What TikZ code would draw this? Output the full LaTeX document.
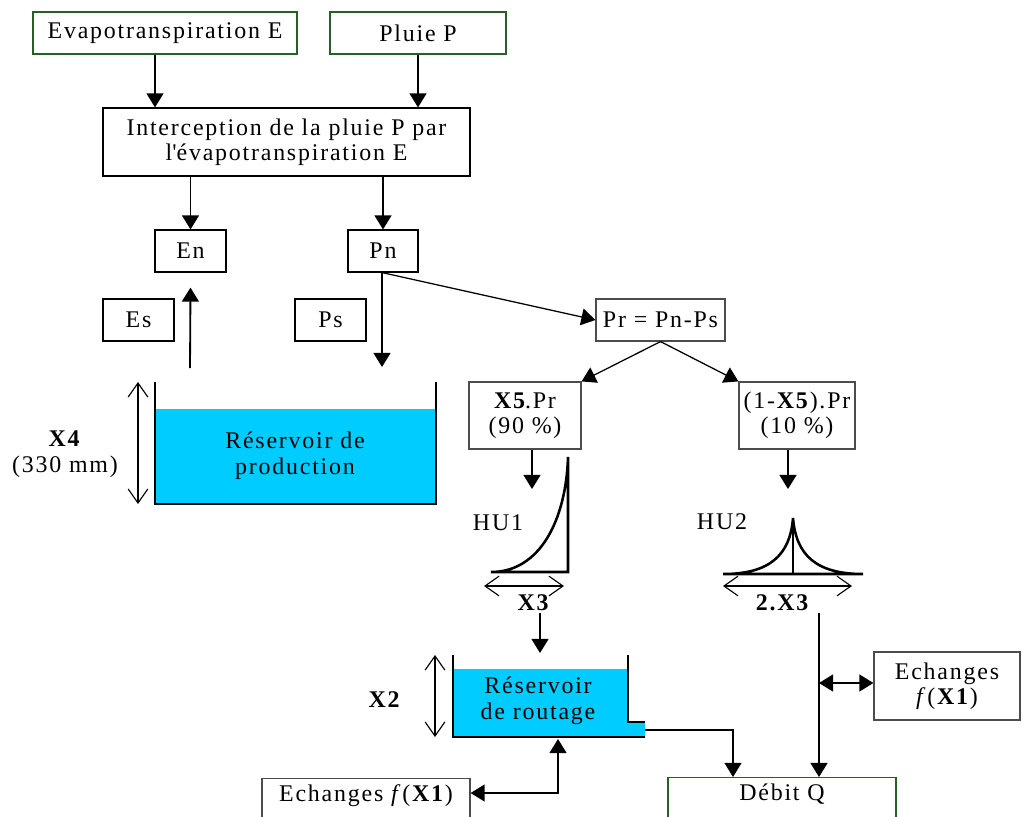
\documentclass[tikz,border=0pt]{standalone}
\usepackage{fontspec}
\setmainfont{Liberation Serif}[LetterSpace=7.5]
\usetikzlibrary{arrows.meta,calc,positioning}
\definecolor{boxgreen}{RGB}{40,95,40}
\definecolor{water}{RGB}{0,204,255}
\tikzset{
  box/.style={
    rectangle,
    draw=black,
    line width=0.8pt,
    fill=white,
    minimum height=1.05cm,
    inner sep=0pt,
    align=center,
    font=\fontsize{17}{17.7}\selectfont
  },
  greybox/.style={
    box,
    draw=gray!60!black
  },
  greenbox/.style={
    box,
    draw=boxgreen
  },
  txt/.style={
    inner sep=1pt,
    align=center,
    font=\fontsize{17}{18.4}\selectfont
  },
  flow/.style={
    line width=1.3pt,
    -{Triangle[length=10pt,width=12pt]}
  },
  thinflow/.style={
    flow,
    line width=0.9pt
  },
  dflow/.style={
    line width=1.3pt,
    {Triangle[length=10pt,width=12pt]}-{Triangle[length=10pt,width=12pt]}
  },
  dim/.style={
    line width=0.8pt,
    {Straight Barb[length=10pt,width=14pt]}-{Straight Barb[length=10pt,width=14pt]}
  },
  wall/.style={
    line width=2pt
  },
  hucurve/.style={
    line width=1.8pt
  }
}

\begin{document}
\begin{tikzpicture}[x=0.025cm, y=-0.025cm]
  % same frame as the scanned figure (pixels)
  \useasboundingbox (0,0) rectangle (1023,816);

  % Inputs
  \node[greenbox, minimum width=6.6cm] (evap) at (165,33) {Evapotranspiration E};
  \node[greenbox, minimum width=4.4cm] (pluie) at (418,33) {Pluie P};
  \node[box, minimum width=9.175cm, minimum height=1.7cm] (inter) at (286.5,142)
    {Interception de la pluie P par\\l\textquotesingle évapotranspiration E};

  % Net values
  \node[box, minimum width=1.775cm] (en) at (190.5,251) {En};
  \node[box, minimum width=1.75cm] (pn) at (383,251) {Pn};
  \node[box, minimum width=1.775cm] (es) at (138.5,320) {Es};
  \node[box, minimum width=1.775cm] (ps) at (330.5,320) {Ps};
  \node[greybox, minimum width=3.225cm] (pr) at (660.5,320) {Pr = Pn-Ps};
  \node[greybox, minimum width=2.8cm, minimum height=1.675cm] (x5) at (525,415.5)
    {\textbf{X5}.Pr\\(90 \%)};
  \node[greybox, minimum width=2.9cm, minimum height=1.675cm] (x5c) at (797,415.5)
    {(1-\textbf{X5}).Pr\\(10 \%)};

  % Production store
  \fill[water] (155,409) rectangle (436,504);
  \draw[wall] (155,382) -- (155,504) -- (436,504) -- (436,382);
  \node[txt] (prod) at (295,456) {Réservoir de\\production};
  \draw[dim] (138,382) -- (138,504);
  \node[txt] (x4) at (65,454) {\textbf{X4}\\(330 mm)};

  % Unit hydrographs
  \draw[hucurve] (491,572) .. controls (540,572) and (566,520) .. (568,457) -- (568,572) -- cycle;
  \node[txt] (hu1) at (498,523) {HU1};
  \draw[dim] (484,586) -- (564,586);
  \node[txt] (x3) at (534,603) {\textbf{X3}};

  \draw[hucurve] (723,574) .. controls (770,574) and (790,555) .. (793,518)
    .. controls (796,555) and (816,574) .. (863,574) -- cycle;
  \draw[hucurve] (793,518) -- (793,574);
  \node[txt] (hu2) at (722,522) {HU2};
  \draw[dim] (723,586) -- (852,586);
  \node[txt] (x3b) at (783,603) {\textbf{2.X3}};

  % Routing store
  \fill[water] (453,669) rectangle (628,737);
  \fill[water] (628,722) rectangle (645,737);
  \draw[wall] (453,655) -- (453,737) -- (645,737);
  \draw[wall] (628,655) -- (628,722) -- (645,722);
  \node[txt] (rout) at (538,701) {Réservoir\\de routage};
  \draw[dim] (435,655) -- (435,737);
  \node[txt] (x2) at (385,700) {\textbf{X2}};

  % Exchanges and outflow
  \node[greybox, minimum width=3.65cm, minimum height=1.7cm] (echR) at (947,686)
    {Echanges\\\textit{f}(\textbf{X1})};
  \node[greenbox, anchor=north, minimum width=5.7cm, text height=12pt, text depth=40pt,
    inner ysep=4.5pt] (debit) at (782,777) {Débit Q};
  \node[greybox, anchor=north, minimum width=5.2cm, text height=12pt, text depth=40pt,
    inner ysep=4.5pt] (echL) at (366,778) {Echanges \textit{f}(\textbf{X1})};

  \coordinate (esup) at (190,368);
  \coordinate (psdown) at (382,367);
  \coordinate (hu1in) at (532,489);
  \coordinate (hu2in) at (788,489);
  \coordinate (routin) at (540,653);
  \coordinate (qline) at (819,683);
  \coordinate (routout) at (645,730);
  \coordinate (routbot) at (558,739);
  \coordinate (echcorner) at (558,793);

  \draw[flow] ([xshift=-0.25cm]evap.south) -- ([xshift=-0.25cm]evap.south |- inter.north);
  \draw[flow] (pluie.south) -- (pluie.south |- inter.north);
  \draw[flow] (inter.south -| en.north) -- (en.north);
  \draw[flow] (inter.south -| pn.north) -- (pn.north);
  \draw[flow] (esup) -- ([yshift=-0.375cm]en.south);
  \draw[flow] (pn.south -| psdown) -- (psdown);
  \draw[thinflow] (pn.south -| psdown) -- (pr.west);
  \draw[thinflow] (pr.south) -- (x5.north east);
  \draw[thinflow] (pr.south) -- (x5c.north west);
  \draw[flow] (x5.south -| hu1in) -- (hu1in);
  \draw[flow] (x5c.south -| hu2in) -- (hu2in);
  \draw[flow] (x3.south -| routin) -- (routin);
  \draw[flow] (x3b.south -| qline) -- (qline |- debit.north);
  \draw[dflow] (qline) -- (qline -| echR.west);
  \draw[thinflow] (routout) -| ([xshift=-1.225cm]debit.north);
  \draw[dflow] (echL.east |- echcorner) -- (echcorner) -- (routbot);
\end{tikzpicture}
\end{document}
